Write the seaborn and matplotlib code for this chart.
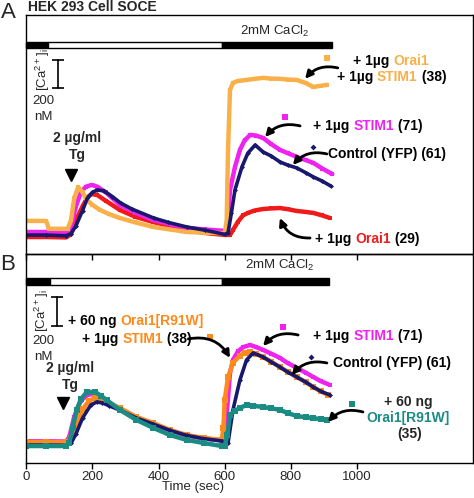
import matplotlib
matplotlib.use('Agg')
import matplotlib.pyplot as plt
import matplotlib.transforms as mtransforms
from matplotlib.patches import Rectangle
import seaborn as sns
import pandas as pd

sns.set_theme(style='white')
plt.rcParams['font.family'] = ['Liberation Sans', 'DejaVu Sans']
plt.rcParams['mathtext.fontset'] = 'custom'
plt.rcParams['mathtext.rm'] = 'Liberation Sans'
plt.rcParams['mathtext.default'] = 'regular'

ORANGE_A = '#f9b049'
ORANGE_B = '#ff8a1c'
MAGENTA = '#f022f0'
NAVY = '#18186e'
RED = '#f01a1a'
TEAL = '#1a8c84'

# ---- Panel A traces (time in s, [Ca2+]i in nM) ----
a_ctrl_t = [0, 60, 120, 135, 150, 170, 185, 200, 215, 235, 260, 285, 320, 385, 430, 485, 540, 600,
            610, 620, 631, 652, 670, 692, 716, 740, 767, 790, 818, 845, 868, 895, 920]
a_ctrl_v = [95, 95, 90, 105, 160, 270, 360, 400, 417, 410, 370, 324, 280, 217, 185, 153, 130, 100,
            110, 250, 417, 581, 680, 738, 688, 660, 617, 595, 574, 540, 510, 480, 446]

a_stim_t = [0, 60, 120, 135, 150, 165, 180, 198, 215, 240, 283, 330, 384, 440, 485, 540, 600, 608,
            616, 631, 646, 660, 677, 695, 716, 740, 767, 790, 818, 845, 868, 895, 925]
a_stim_v = [117, 117, 115, 150, 300, 400, 440, 453, 440, 400, 310, 255, 203, 170, 146, 135, 125, 140,
            417, 581, 703, 770, 810, 805, 788, 745, 703, 680, 653, 630, 610, 570, 531]

a_orai_t = [0, 60, 120, 135, 150, 170, 185, 198, 215, 240, 283, 330, 384, 440, 485, 540, 600, 616,
            625, 640, 655, 670, 690, 716, 740, 767, 790, 818, 845, 868, 895, 918]
a_orai_v = [81, 81, 78, 100, 200, 300, 365, 388, 380, 340, 274, 225, 188, 155, 131, 110, 96, 96,
            131, 190, 235, 253, 270, 281, 285, 288, 280, 267, 260, 253, 235, 217]

a_both_t = [0, 60, 68, 125, 135, 145, 157, 170, 183, 200, 223, 250, 283, 330, 384, 440, 485, 540, 600,
            606, 610, 616, 625, 640, 666, 690, 716, 740, 767, 790, 818, 845, 868, 890, 909]
a_both_v = [196, 196, 140, 139, 200, 360, 438, 400, 346, 310, 274, 245, 217, 185, 153, 133, 117, 112, 108,
            200, 700, 1131, 1181, 1195, 1202, 1210, 1217, 1212, 1210, 1205, 1202, 1180, 1152, 1160, 1167]

# ---- Panel B traces ----
b_ctrl_t = [0, 60, 120, 135, 150, 170, 195, 213, 230, 250, 283, 333, 384, 434, 485, 536, 591, 600,
            610, 625, 646, 666, 686, 716, 740, 767, 790, 818, 845, 868, 890, 918]
b_ctrl_v = [84, 84, 82, 95, 160, 270, 360, 381, 375, 355, 325, 270, 228, 185, 150, 128, 112, 105,
            98, 326, 533, 671, 719, 691, 658, 622, 588, 553, 518, 484, 455, 429]

b_stim_t = [0, 60, 120, 130, 145, 165, 185, 200, 215, 240, 283, 333, 384, 434, 485, 536, 591, 600,
            608, 616, 625, 640, 656, 677, 695, 716, 740, 767, 790, 818, 845, 868, 890, 918]
b_stim_v = [110, 110, 108, 140, 280, 390, 430, 435, 420, 385, 335, 275, 230, 185, 150, 130, 115, 140,
            350, 581, 671, 730, 760, 774, 760, 740, 715, 685, 650, 616, 583, 553, 525, 498]

b_both_t = [0, 60, 120, 135, 150, 170, 190, 208, 225, 243, 283, 333, 384, 434, 485, 536, 591, 596,
            600, 610, 625, 645, 660, 677, 695, 716, 740, 767, 790, 818, 845, 868, 890, 912]
b_both_v = [105, 105, 102, 130, 230, 330, 390, 408, 400, 381, 340, 277, 236, 188, 153, 133, 119, 200,
            395, 553, 650, 700, 720, 726, 712, 691, 660, 622, 590, 553, 518, 484, 455, 429]

b_r91w_t = [0, 60, 120, 130, 140, 152, 165, 183, 208, 225, 243, 283, 333, 384, 434, 485, 536, 591,
            600, 608, 616, 630, 646, 666, 686, 716, 740, 767, 790, 818, 845, 868, 890, 909]
b_r91w_v = [77, 77, 77, 100, 200, 326, 400, 450, 450, 425, 395, 326, 257, 202, 153, 119, 98, 77,
            80, 153, 291, 320, 340, 360, 355, 346, 338, 326, 305, 284, 276, 270, 262, 257]

# solution bars: start, end, fill
stimA_start = [0, 65, 592]
stimA_end = [65, 592, 924]
stimB_start = [0, 72, 592]
stimB_end = [72, 592, 915]
stim_fill = ['black', 'white', 'black']

xticks = [0, 200, 400, 600, 800, 1000]

fig = plt.figure(figsize=(4.74, 4.98), dpi=100)
axA = fig.add_axes([0.0555, 0.490, 0.9425, 0.480])
axB = fig.add_axes([0.0555, 0.0703, 0.9425, 0.4197])
axB.patch.set_visible(False)


def trace(ax, t, v, color, marker='s', ms=3.5, lw=3.2):
    df = pd.DataFrame({'t': t, 'v': v})
    sns.lineplot(data=df, x='t', y='v', ax=ax, color=color, lw=lw, marker=marker,
                 markersize=ms, markeredgewidth=0, sort=False, estimator=None)


def color_text(ax, x, y, parts, size=10):
    txt = ax.text(x, y, parts[0][0], color=parts[0][1], fontsize=size,
                  fontweight='bold', va='center', ha='left')
    for s, c in parts[1:]:
        txt = ax.annotate(s, xycoords=txt, xy=(1, 0), va='bottom', ha='left',
                          color=c, fontsize=size, fontweight='bold')
    return txt


def arrow(ax, start, end, rad):
    ax.annotate('', xy=end, xytext=start,
                arrowprops=dict(arrowstyle='-|>', color='black', lw=2,
                                mutation_scale=11, shrinkA=0, shrinkB=0,
                                connectionstyle='arc3,rad=%s' % rad))


def stim_bar(ax, starts, ends, y0, h):
    tr = mtransforms.blended_transform_factory(ax.transData, ax.transAxes)
    for s, e, f in zip(starts, ends, stim_fill):
        ax.add_patch(Rectangle((s, y0), e - s, h, transform=tr, facecolor=f,
                               edgecolor='black', lw=1, clip_on=False))


# ---------------- Panel A ----------------
trace(axA, a_orai_t, a_orai_v, RED)
trace(axA, a_stim_t, a_stim_v, MAGENTA)
trace(axA, a_both_t, a_both_v, ORANGE_A)
trace(axA, a_ctrl_t, a_ctrl_v, NAVY, marker='D', ms=2.5, lw=2.6)

axA.set_xlim(0, 1351)
axA.set_ylim(-40, 1666)
stim_bar(axA, stimA_start, stimA_end, 0.862, 0.025)
axA.text(752, 1545, '2mM CaCl$_2$', fontsize=9.5, ha='center', va='center')

axA.plot([96, 96], [1145, 1345], color='black', lw=1.2, marker='_', ms=9, mew=1.2)
axA.text(51, 1274, '[Ca$^{2+}$]$_i$', rotation=90, fontsize=9.5, ha='center', va='center')
axA.text(51, 1052, '200', fontsize=9.5, ha='center', va='center')
axA.text(51, 938, 'nM', fontsize=9.5, ha='center', va='center')
axA.text(153, 788, '2 µg/ml', fontsize=10, fontweight='bold', ha='center', va='center')
axA.text(153, 667, 'Tg', fontsize=10, fontweight='bold', ha='center', va='center')
axA.plot(135, 524, marker='v', color='black', ms=8)

color_text(axA, 989, 1338, [('+ 1µg ', 'black'), ('Orai1', ORANGE_A)])
color_text(axA, 939, 1224, [('+ 1µg ', 'black'), ('STIM1', ORANGE_A), (' (38)', 'black')])
arrow(axA, (942, 1288), (843, 1210), 0.3)
axA.plot(910, 1359, marker='s', color=ORANGE_A, ms=4, mew=0)

color_text(axA, 867, 874, [('+ 1µg ', 'black'), ('STIM1', MAGENTA), (' (71)', 'black')])
arrow(axA, (828, 874), (722, 795), 0.3)
axA.plot(782, 938, marker='s', color=MAGENTA, ms=4, mew=0)

color_text(axA, 912, 674, [('Control (YFP) (61)', 'black')])
arrow(axA, (909, 674), (806, 595), 0.3)
axA.plot(867, 724, marker='D', color=NAVY, ms=3, mew=0)

color_text(axA, 873, 67, [('+ 1µg ', 'black'), ('Orai1', RED), (' (29)', 'black')])
arrow(axA, (858, 74), (767, 217), -0.35)

axA.set_xticks(xticks)
axA.set_yticks([])
axA.tick_params(axis='x', direction='out', length=4, width=1, bottom=True,
                labelbottom=False, color='black')
axA.set_xlabel('')
axA.set_ylabel('')

# ---------------- Panel B ----------------
trace(axB, b_stim_t, b_stim_v, MAGENTA)
trace(axB, b_both_t, b_both_v, ORANGE_B, ms=4)
trace(axB, b_ctrl_t, b_ctrl_v, NAVY, marker='D', ms=2.5, lw=2.6)
trace(axB, b_r91w_t, b_r91w_v, TEAL, ms=4)

axB.set_xlim(0, 1351)
axB.set_ylim(-40, 1402)
stim_bar(axB, stimB_start, stimB_end, 0.852, 0.032)
axB.text(767, 1326, '2mM CaCl$_2$', fontsize=9.5, ha='center', va='center')

axB.plot([93, 93], [905, 1105], color='black', lw=1.2, marker='_', ms=9, mew=1.2)
axB.text(48, 1009, '[Ca$^{2+}$]$_i$', rotation=90, fontsize=9.5, ha='center', va='center')
axB.text(51, 802, '200', fontsize=9.5, ha='center', va='center')
axB.text(51, 691, 'nM', fontsize=9.5, ha='center', va='center')
axB.text(132, 616, '2 µg/ml', fontsize=10, fontweight='bold', ha='center', va='center')
axB.text(132, 498, 'Tg', fontsize=10, fontweight='bold', ha='center', va='center')
axB.plot(111, 374, marker='v', color='black', ms=8)

color_text(axB, 126, 940, [('+ 60 ng ', 'black'), ('Orai1[R91W]', ORANGE_B)])
color_text(axB, 169, 816, [('+ 1µg ', 'black'), ('STIM1', ORANGE_B), (' (38)', 'black')])
arrow(axB, (490, 816), (616, 685), -0.35)
axB.plot(556, 829, marker='s', color=ORANGE_B, ms=4.5, mew=0)

color_text(axB, 867, 836, [('+ 1µg ', 'black'), ('STIM1', MAGENTA), (' (71)', 'black')])
arrow(axB, (822, 843), (716, 767), 0.3)
axB.plot(776, 898, marker='s', color=MAGENTA, ms=4, mew=0)

color_text(axB, 927, 650, [('Control (YFP) (61)', 'black')])
arrow(axB, (909, 650), (803, 567), 0.3)
axB.plot(861, 691, marker='D', color=NAVY, ms=3, mew=0)

axB.text(1154, 381, '+ 60 ng', fontsize=10, fontweight='bold', ha='center', va='center')
axB.text(1154, 271, 'Orai1[R91W]', fontsize=10, fontweight='bold', ha='center', va='center', color=TEAL)
axB.text(1160, 160, '(35)', fontsize=10, fontweight='bold', ha='center', va='center')
arrow(axB, (1018, 312), (912, 243), 0.3)
axB.plot(985, 367, marker='s', color=TEAL, ms=4, mew=0)

axB.set_xticks(xticks)
axB.set_xticklabels([str(x) for x in xticks], fontsize=9.5)
axB.set_yticks([])
axB.tick_params(axis='x', direction='out', length=4, width=1, bottom=True, pad=1.5,
                color='black')
axB.set_xlabel('Time (sec)', fontsize=9.5, labelpad=-1.5, x=0.373)
axB.set_ylabel('')

for ax in (axA, axB):
    for sp in ax.spines.values():
        sp.set_color('black')
        sp.set_linewidth(1)

fig.text(28 / 474, 1 - 7 / 498, 'HEK 293 Cell SOCE', fontsize=10, fontweight='bold',
         ha='left', va='center')
fig.text(8 / 474, 1 - 13 / 498, 'A', fontsize=16, ha='center', va='center')
fig.text(8 / 474, 1 - 264 / 498, 'B', fontsize=16, ha='center', va='center')

fig.savefig('out.png', dpi=100)
